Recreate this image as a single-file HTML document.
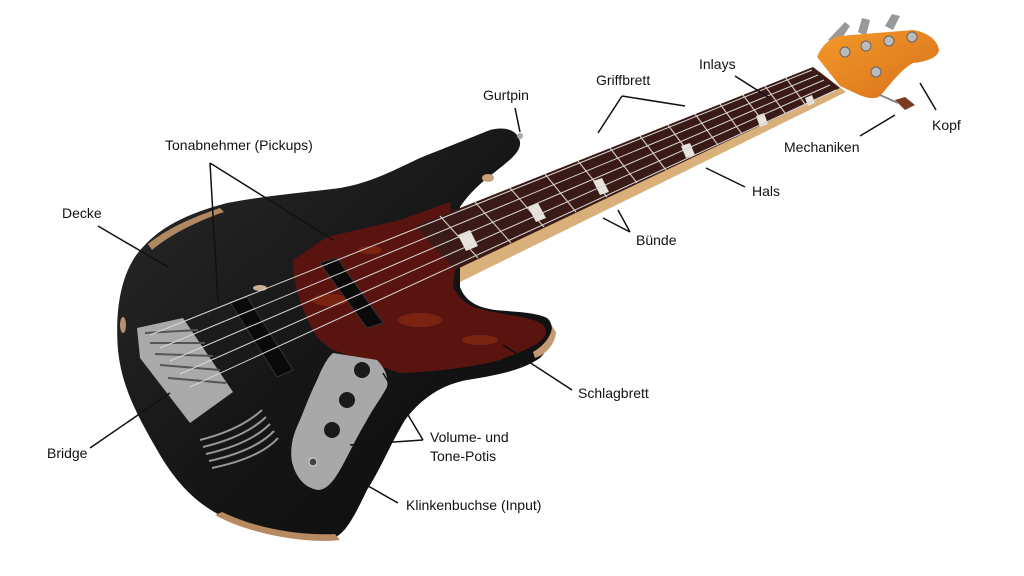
<!DOCTYPE html>
<html><head><meta charset="utf-8"><style>
html,body{margin:0;padding:0;background:#fff;}
svg{display:block;}
text{font-family:"Liberation Sans",Arial,sans-serif;font-size:14px;fill:#111;}
</style></head><body>
<svg width="1024" height="576" viewBox="0 0 1024 576" xmlns="http://www.w3.org/2000/svg">
<defs>
<linearGradient id="bd" x1="0" y1="0" x2="1" y2="1">
<stop offset="0" stop-color="#2a2a2a"/><stop offset="0.5" stop-color="#161616"/><stop offset="1" stop-color="#0c0c0c"/>
</linearGradient>
<linearGradient id="hd" x1="0" y1="0" x2="1" y2="1">
<stop offset="0" stop-color="#f39a2a"/><stop offset="1" stop-color="#d8701a"/>
</linearGradient>
</defs>
<!-- neck wood -->
<polygon points="415,232 820,72 846,92 460,282" fill="#d9b07a"/>
<!-- body -->
<path d="M143,247 C160,228 185,214 227,203 C270,195 310,192 340,188 C370,183 390,172 420,158 C450,146 470,138 490,130 C505,126 518,130 520,142 C521,152 510,160 495,172 C480,183 468,195 460,207 L460,287 C465,300 475,307 495,310 C515,312 535,312 547,318 C556,325 553,345 540,358 C520,372 490,376 467,380 C440,385 420,400 405,420 C390,445 380,470 367,490 C355,515 345,535 333,538 C310,542 270,535 230,520 C195,505 175,480 160,455 C140,420 122,390 118,350 C114,300 125,265 143,247 Z" fill="url(#bd)"/>
<!-- relic wear -->
<path d="M340,540 C310,544 250,535 215,515 L222,512 C255,528 300,536 335,534 Z" fill="#b88a62"/>
<path d="M533,352 C545,345 552,335 552,326 L556,332 C555,345 545,355 535,358 Z" fill="#c49a74"/>
<path d="M148,244 C165,230 190,218 220,208 L224,212 C195,222 170,235 152,250 Z" fill="#b08862"/>
<ellipse cx="260" cy="288" rx="7" ry="3" fill="#cbb090"/>
<ellipse cx="488" cy="178" rx="6" ry="4" fill="#c8a07a"/>
<ellipse cx="123" cy="325" rx="3" ry="8" fill="#b89070"/>
<!-- pickguard -->
<path d="M293,260 L327,237 L400,220 L450,202 L455,270 L453,287 C460,300 470,307 480,309 C500,314 520,316 533,320 C545,324 548,330 545,336 C540,345 520,352 500,360 C470,368 430,372 400,373 L333,350 C322,343 315,335 313,330 C302,310 293,285 293,260 Z" fill="#5a1410"/>
<g fill="#8a2a12" opacity="0.7">
<ellipse cx="330" cy="300" rx="18" ry="6"/><ellipse cx="420" cy="320" rx="22" ry="7"/><ellipse cx="480" cy="340" rx="18" ry="5"/><ellipse cx="370" cy="250" rx="12" ry="4"/>
</g>
<!-- fretboard -->
<polygon points="415,226 813,67 840,88 455,270" fill="#3a1a16"/>
<g stroke="#cfc6bc" stroke-width="1.2">
<line x1="440" y1="216" x2="478" y2="258"/><line x1="475" y1="202" x2="511" y2="243"/>
<line x1="510" y1="188" x2="544" y2="227"/><line x1="545" y1="174" x2="576" y2="212"/>
<line x1="578" y1="161" x2="607" y2="197"/><line x1="610" y1="148" x2="637" y2="183"/>
<line x1="640" y1="136" x2="666" y2="170"/><line x1="668" y1="125" x2="692" y2="157"/>
<line x1="695" y1="114" x2="718" y2="145"/><line x1="720" y1="104" x2="742" y2="134"/>
<line x1="743" y1="95" x2="764" y2="123"/><line x1="765" y1="86" x2="785" y2="113"/>
<line x1="786" y1="78" x2="805" y2="104"/>
</g>
<g fill="#e6e2dc">
<polygon points="458,235 470,230 478,246 466,251"/>
<polygon points="528,207 538,203 546,218 536,222"/>
<polygon points="593,181 602,178 609,192 600,195"/>
<polygon points="681,146 690,143 695,155 686,158"/>
<polygon points="756,116 764,113 768,124 760,127"/>
<polygon points="805,98 812,95 815,103 808,106"/>
</g>
<!-- control plate -->
<path d="M333,353 L377,360 C385,368 389,378 387,387 C380,400 372,410 367,420 C355,440 347,458 340,470 C333,482 326,490 318,490 C305,488 296,478 292,462 C289,445 295,430 300,420 C306,405 312,390 317,380 C322,368 327,358 333,353 Z" fill="#a8a8a8"/>
<circle cx="362" cy="370" r="8" fill="#1a1a1a"/><circle cx="347" cy="400" r="8" fill="#1a1a1a"/><circle cx="332" cy="430" r="8" fill="#1a1a1a"/>
<circle cx="313" cy="462" r="4" fill="#444" stroke="#ddd" stroke-width="1"/>
<!-- bridge -->
<polygon points="137,328 183,318 233,392 190,423 140,358" fill="#a9a9a9"/>
<g stroke="#555" stroke-width="2">
<line x1="145" y1="333" x2="198" y2="330"/><line x1="150" y1="343" x2="205" y2="343"/><line x1="155" y1="354" x2="213" y2="356"/><line x1="160" y1="365" x2="220" y2="370"/><line x1="168" y1="378" x2="226" y2="383"/>
</g>
<!-- pickups -->
<polygon points="230,302 247,297 293,370 277,377" fill="#0a0a0a" stroke="#333"/>
<polygon points="320,263 337,258 383,323 367,328" fill="#0a0a0a" stroke="#333"/>
<!-- thumb grill -->
<g stroke="#999" stroke-width="2" fill="none">
<path d="M200,440 Q240,430 262,410"/><path d="M203,447 Q245,437 266,417"/><path d="M206,454 Q250,444 270,424"/><path d="M209,461 Q255,451 274,431"/><path d="M212,468 Q260,458 278,438"/>
</g>
<!-- strings -->
<g stroke="#d8d8d8" stroke-width="1">
<line x1="150" y1="335" x2="812" y2="70"/><line x1="160" y1="348" x2="818" y2="75"/><line x1="170" y1="361" x2="824" y2="80"/><line x1="180" y1="374" x2="830" y2="85"/><line x1="190" y1="387" x2="836" y2="90"/>
</g>
<!-- headstock -->
<g fill="#999"><polygon points="828,40 845,22 850,26 838,44"/><polygon points="858,32 862,18 870,20 866,36"/><polygon points="885,26 892,14 900,16 893,30"/></g>
<path d="M817,57 C822,45 830,38 840,36 L913,30 C925,32 937,38 939,50 C938,58 925,62 913,63 C900,70 890,85 880,96 C875,100 865,98 855,93 L840,86 Z" fill="url(#hd)"/>
<g fill="#bbb" stroke="#666" stroke-width="1">
<circle cx="845" cy="52" r="5"/><circle cx="866" cy="46" r="5"/><circle cx="889" cy="41" r="5"/><circle cx="912" cy="37" r="5"/><circle cx="876" cy="72" r="5"/>
</g>
<polygon points="895,100 905,97 915,105 905,110" fill="#7a3a20"/>
<line x1="880" y1="95" x2="898" y2="103" stroke="#888" stroke-width="2"/>
<circle cx="520" cy="136" r="3" fill="#aaa"/>
<!-- leader lines -->
<g stroke="#111" stroke-width="1.5" fill="none">
<line x1="515" y1="108" x2="520" y2="132"/>
<line x1="622" y1="96" x2="598" y2="133"/><line x1="622" y1="96" x2="685" y2="106"/>
<line x1="735" y1="76" x2="768" y2="97"/>
<line x1="860" y1="136" x2="895" y2="115"/>
<line x1="936" y1="110" x2="920" y2="83"/>
<line x1="706" y1="168" x2="745" y2="187"/>
<line x1="603" y1="218" x2="630" y2="232"/><line x1="618" y1="210" x2="630" y2="232"/>
<line x1="210" y1="163" x2="218" y2="302"/><line x1="210" y1="163" x2="333" y2="240"/>
<line x1="98" y1="226" x2="168" y2="267"/>
<line x1="503" y1="345" x2="572" y2="390"/>
<line x1="423" y1="440" x2="383" y2="373"/><line x1="423" y1="440" x2="350" y2="445"/>
<line x1="398" y1="503" x2="340" y2="470"/>
<line x1="90" y1="448" x2="170" y2="393"/>
</g>
<!-- labels -->
<text x="483" y="100">Gurtpin</text>
<text x="596" y="85">Griffbrett</text>
<text x="699" y="69">Inlays</text>
<text x="784" y="152">Mechaniken</text>
<text x="932" y="130">Kopf</text>
<text x="752" y="196">Hals</text>
<text x="636" y="245">Bünde</text>
<text x="165" y="150">Tonabnehmer (Pickups)</text>
<text x="62" y="218">Decke</text>
<text x="578" y="398">Schlagbrett</text>
<text x="430" y="442">Volume- und</text>
<text x="430" y="461">Tone-Potis</text>
<text x="406" y="510">Klinkenbuchse (Input)</text>
<text x="47" y="458">Bridge</text>
</svg>
</body></html>
